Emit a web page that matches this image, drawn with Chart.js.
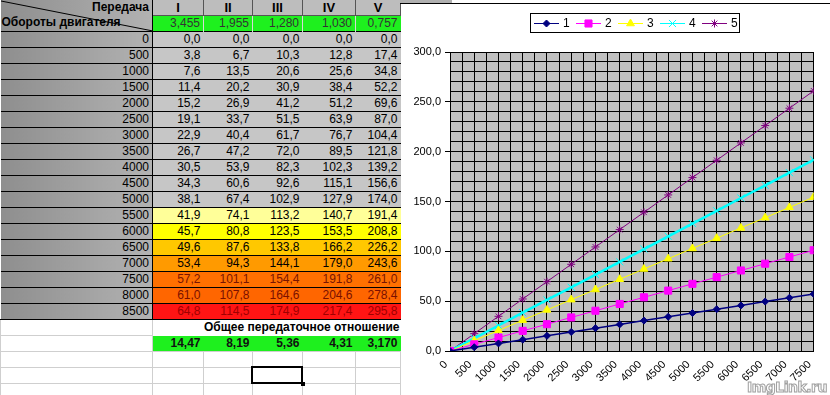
<!DOCTYPE html>
<html>
<head>
  <meta charset="utf-8">
  <script src="https://cdn.jsdelivr.net/npm/chart.js@4/dist/chart.umd.min.js"></script>
  <style>
    html, body { margin: 0; padding: 0; background: #fff; }
    body { width: 830px; height: 395px; overflow: hidden; position: relative;
           font-family: "Liberation Sans", Arial, sans-serif; }
    #sheet { position: absolute; left: 0; top: 0; border-collapse: collapse; table-layout: fixed; font-size: 12px; }
    #sheet td { padding: 0 3px 0 0; height: 15px; line-height: 15px; text-align: right; white-space: nowrap; overflow: hidden; }
    #sheet td.rpm { background: linear-gradient(to right, #8e8e8e, #b2b2b2); border-top: 1px solid #000; border-right: 1px solid #000; }
    #sheet td.val { border-top: 1px solid #000; }
    #sheet td.blank { border: 1px solid #cfcfcf; background: #fff; }
    #corner { position: relative; background: linear-gradient(to right, #8e8e8e, #b2b2b2); border-right: 1px solid #000; padding: 0 !important; }
    #chartBox { position: absolute; left: 400px; top: 0; width: 430px; height: 395px; }
    #sel { position: absolute; left: 251px; top: 366px; width: 48px; height: 14px; border: 2px solid #000; }
    #sel::after { content: ''; position: absolute; right: -4px; bottom: -4px; width: 4px; height: 4px; background: #000; }
    #mark { position: absolute; right: 3px; bottom: 0; font: bold 14px "DejaVu Sans", sans-serif; color: #fff;
            -webkit-text-stroke: 1px #a0a0a0; letter-spacing: -0.5px; }
  </style>
</head>
<body>
  <table id="sheet"></table>
  <div id="sel"></div>
  <div style="position:absolute;left:400px;top:0;width:52px;height:3px;background:#b0b0b0;"></div>
  <div style="position:absolute;left:400px;top:3px;width:430px;height:1px;background:#000;"></div>
  <div id="chartBox"><canvas id="gearChart"></canvas></div>
  <div id="mark">ImgLink.ru</div>
<script>
  // engine speed, rpm (table rows)
  const rpm = [0, 500, 1000, 1500, 2000, 2500, 3000, 3500, 4000, 4500, 5000, 5500, 6000, 6500, 7000, 7500, 8000, 8500];
  const gearNames = ['I', 'II', 'III', 'IV', 'V'];
  const gearRatios = ['3,455', '1,955', '1,280', '1,030', '0,757'];
  const totalRatios = ['14,47', '8,19', '5,36', '4,31', '3,170'];

  // speed, km/h, for each gear
  const gear1 = [0.0, 3.8, 7.6, 11.4, 15.2, 19.1, 22.9, 26.7, 30.5, 34.3, 38.1, 41.9, 45.7, 49.6, 53.4, 57.2, 61.0, 64.8];
  const gear2 = [0.0, 6.7, 13.5, 20.2, 26.9, 33.7, 40.4, 47.2, 53.9, 60.6, 67.4, 74.1, 80.8, 87.6, 94.3, 101.1, 107.8, 114.5];
  const gear3 = [0.0, 10.3, 20.6, 30.9, 41.2, 51.5, 61.7, 72.0, 82.3, 92.6, 102.9, 113.2, 123.5, 133.8, 144.1, 154.4, 164.6, 174.9];
  const gear4 = [0.0, 12.8, 25.6, 38.4, 51.2, 63.9, 76.7, 89.5, 102.3, 115.1, 127.9, 140.7, 153.5, 166.2, 179.0, 191.8, 204.6, 217.4];
  const gear5 = [0.0, 17.4, 34.8, 52.2, 69.6, 87.0, 104.4, 121.8, 139.2, 156.6, 174.0, 191.4, 208.8, 226.2, 243.6, 261.0, 278.4, 295.8];

  // the chart only plots 0..7500
  const chartRpm = rpm.slice(0, 16);
  const seriesLabels = ['1', '2', '3', '4', '5'];

  const fmt1 = v => v.toFixed(1).replace('.', ',');

  // ---- spreadsheet part ----
  function buildSheet() {
    const gears = [gear1, gear2, gear3, gear4, gear5];
    const widths = [152, 51, 49, 50, 53, 45];
    const rowFill = { 5500: '#ffff99', 6000: '#ffff00', 6500: '#ffc800', 7000: '#ff9a00', 7500: '#ff7000', 8000: '#ff6600', 8500: '#ff1414' };
    const rowText = { 7500: '#7a1500', 8000: '#7a1000', 8500: '#a00000' };
    let html = '<colgroup>' + widths.map(w => `<col style="width:${w}px">`).join('') + '</colgroup>';

    html += `<tr><td id="corner" rowspan="2" style="height:31px">
      <svg width="152" height="31" style="position:absolute;left:0;top:0">
        <line x1="0" y1="1" x2="152" y2="31" stroke="#000" stroke-width="1"/></svg>
      <div style="position:absolute;right:3px;top:0;font-weight:bold;line-height:15px">Передача</div>
      <div style="position:absolute;left:1px;top:15px;font-weight:bold;line-height:15px">Обороты двигателя</div></td>`;
    gearNames.forEach(g => {
      html += `<td style="background:#bdbdbd;text-align:center;font-weight:bold;font-size:13px;border-right:1px solid #555;padding:0">${g}</td>`;
    });
    html += '</tr><tr>';
    gearRatios.forEach(r => {
      html += `<td style="background:#1ef01e;color:#333;border-top:1px solid #555;border-left:1px solid #d8d8d8">${r}</td>`;
    });
    html += '</tr>';

    rpm.forEach((n, i) => {
      const bg = rowFill[n] || '#c6c6c6';
      const col = rowText[n] || '#000';
      html += `<tr><td class="rpm">${n}</td>`;
      gears.forEach(g => {
        html += `<td class="val" style="background:${bg};color:${col}">${fmt1(g[i])}</td>`;
      });
      html += '</tr>';
    });

    html += `<tr><td class="blank" style="border-top:1px solid #000"></td><td colspan="5" style="font-weight:bold;border-top:1px solid #000;padding-right:1px">Общее передаточное отношение</td></tr>`;
    html += '<tr><td class="blank"></td>';
    totalRatios.forEach(r => {
      html += `<td style="background:#1ef01e;font-weight:bold;color:#111">${r}</td>`;
    });
    html += '</tr>';
    for (let k = 0; k < 3; k++) {
      html += '<tr>' + widths.map(() => '<td class="blank"></td>').join('') + '</tr>';
    }
    document.getElementById('sheet').innerHTML = html;
  }
  buildSheet();

  // ---- chart part ----
  const styles = [
    { color: '#000080', point: 'rectRot', radius: 3.5, width: 1.5 },
    { color: '#ff00ff', point: 'rect', radius: 5, width: 1 },
    { color: '#ffff00', point: 'triangle', radius: 4.5, width: 1 },
    { color: '#00ffff', point: 'crossRot', radius: 5, width: 2.5 },
    { color: '#800080', point: 'star', radius: 4, width: 1 }
  ];

  function makeSeries(values, i) {
    const s = styles[i];
    return {
      label: seriesLabels[i],
      data: chartRpm.map((x, k) => ({ x: x, y: values[k] })),
      borderColor: s.color,
      backgroundColor: s.color,
      borderWidth: s.width,
      pointStyle: s.point,
      pointRadius: s.radius,
      pointBorderColor: s.color,
      pointBackgroundColor: s.color,
      pointBorderWidth: 1,
      tension: 0
    };
  }

  const plotBackground = {
    id: 'plotBackground',
    beforeDraw(chart) {
      const a = chart.chartArea;
      const ctx = chart.ctx;
      ctx.save();
      ctx.fillStyle = '#c0c0c0';
      ctx.fillRect(a.left, a.top, a.right - a.left, a.bottom - a.top);
      ctx.restore();
    }
  };

  // Excel style legend: framed box, line with marker then label
  const boxLegend = {
    id: 'boxLegend',
    afterDraw(chart) {
      const ctx = chart.ctx;
      ctx.save();
      ctx.strokeStyle = '#000';
      ctx.lineWidth = 1;
      ctx.strokeRect(130.5, 13.5, 209, 19);
      chart.data.datasets.forEach((ds, i) => {
        const x0 = 134 + i * 42;
        const y = 23;
        ctx.strokeStyle = ds.borderColor;
        ctx.lineWidth = 1;
        ctx.beginPath();
        ctx.moveTo(x0, y + 0.5);
        ctx.lineTo(x0 + 25, y + 0.5);
        ctx.stroke();
        ctx.fillStyle = ds.borderColor;
        if (Chart.helpers && Chart.helpers.drawPoint) {
          Chart.helpers.drawPoint(ctx, { pointStyle: ds.pointStyle, radius: ds.pointRadius, borderWidth: 1, rotation: 0 }, x0 + 12.5, y + 0.5);
        } else {
          ctx.fillRect(x0 + 9, y - 3, 7, 7);
        }
        ctx.fillStyle = '#000';
        ctx.font = '12px "Liberation Sans", Arial, sans-serif';
        ctx.textBaseline = 'middle';
        ctx.fillText(ds.label, x0 + 29, y + 1);
      });
      ctx.restore();
    }
  };

  Chart.defaults.font.family = '"Liberation Sans", Arial, sans-serif';
  Chart.defaults.color = '#000';

  new Chart(document.getElementById('gearChart'), {
    type: 'line',
    data: {
      datasets: [gear1, gear2, gear3, gear4, gear5].map(makeSeries)
    },
    options: {
      responsive: true,
      maintainAspectRatio: false,
      animation: false,
      layout: { padding: { top: 52, right: 8, left: 0, bottom: 0 } },
      plugins: { legend: { display: false }, tooltip: { enabled: false } },
      scales: {
        x: {
          type: 'linear',
          min: 0,
          max: 7500,
          afterFit(scale) { scale.height = 44; },
          border: { color: '#000', width: 1 },
          grid: { color: '#000', lineWidth: 1, drawTicks: false },
          ticks: {
            stepSize: 250,
            autoSkip: false,
            minRotation: 45,
            maxRotation: 45,
            padding: 7,
            labelOffset: -4,
            font: { size: 11 },
            callback: v => (v % 500 === 0 ? String(v) : '')
          }
        },
        y: {
          min: 0,
          max: 300,
          afterFit(scale) { scale.width = 50; },
          border: { color: '#000', width: 1 },
          grid: {
            color: '#000',
            lineWidth: 1,
            tickLength: 5,
            tickColor: c => (c.tick && c.tick.value % 50 === 0 ? '#000' : 'rgba(0,0,0,0)')
          },
          ticks: {
            stepSize: 10,
            autoSkip: false,
            padding: 4,
            font: { size: 11 },
            callback: v => (v % 50 === 0 ? fmt1(v) : '')
          }
        }
      }
    },
    plugins: [plotBackground, boxLegend]
  });
</script>
</body>
</html>
